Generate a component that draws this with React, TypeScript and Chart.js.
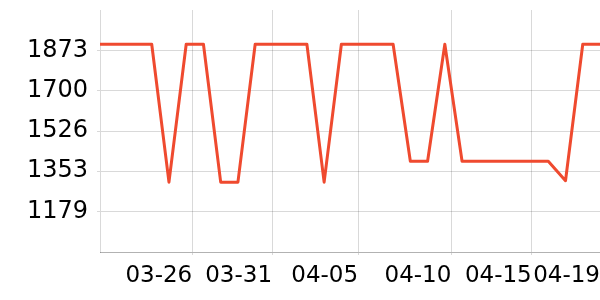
import React, { useEffect, useRef } from 'react';
import { Chart, registerables } from 'chart.js';

Chart.register(...registerables);

// Daily price series (30 points)
const prices = [
  1899, 1899, 1899, 1899, 1306, 1899, 1899, 1306, 1306, 1899,
  1899, 1899, 1899, 1306, 1899, 1899, 1899, 1899, 1396, 1396,
  1899, 1396, 1396, 1396, 1396, 1396, 1396, 1312, 1899, 1899,
];
// x tick positions (in point-index units) and their labels
const xTickPositions = [5.35, 9.98, 14.97, 20.38, 25.04, 29];
const xTickLabels = ['03-26', '03-31', '04-05', '04-10', '04-15', '04-19'];
// y ticks and range
const yTicks = [1179, 1353, 1526, 1700, 1873];
const yMin = 1005.5;
const yMax = 2046.5;

const LINE_COLOR = '#ef4a2f';
const GRID = 'rgba(0,0,0,0.15)';

export default function App() {
  const ref = useRef<HTMLCanvasElement | null>(null);

  useEffect(() => {
    document.body.style.margin = '0';
    const canvas = ref.current;
    if (!canvas) return;
    const chart = new Chart(canvas, {
      type: 'line',
      data: {
        datasets: [
          {
            data: prices.map((v, i) => ({ x: i, y: v })),
            borderColor: LINE_COLOR,
            backgroundColor: LINE_COLOR,
            borderWidth: 3,
            borderJoinStyle: 'round',
            pointRadius: 0,
            tension: 0,
            fill: false,
          },
        ],
      },
      options: {
        animation: false,
        responsive: false,
        layout: { padding: { top: 10, right: 0, left: 0, bottom: 0 } },
        plugins: { legend: { display: false }, tooltip: { enabled: false } },
        scales: {
          x: {
            type: 'linear',
            min: 0,
            max: prices.length - 1,
            afterBuildTicks: (scale: any) => {
              scale.ticks = xTickPositions.map((v) => ({ value: v }));
            },
            afterFit: (scale: any) => {
              scale.height = 48;
              scale.paddingLeft = 0;
              scale.paddingRight = 0;
            },
            grid: { color: GRID, tickLength: 3 },
            border: { color: 'rgba(0,0,0,0.3)' },
            ticks: {
              autoSkip: false,
              maxRotation: 0,
              minRotation: 0,
              align: 'end',
              padding: 7,
              color: '#000',
              font: { family: 'DejaVu Sans', size: 23 },
              callback: (_v: any, i: number) => xTickLabels[i],
            },
          },
          y: {
            type: 'linear',
            min: yMin,
            max: yMax,
            afterBuildTicks: (scale: any) => {
              scale.ticks = yTicks.map((v) => ({ value: v }));
            },
            afterFit: (scale: any) => {
              scale.width = 100;
              scale.paddingTop = 0;
              scale.paddingBottom = 0;
            },
            grid: { color: GRID, tickLength: 3 },
            border: { color: GRID },
            ticks: {
              padding: 9,
              color: '#000',
              font: { family: 'DejaVu Sans', size: 24 },
              callback: (v: any) => String(v),
            },
          },
        },
      },
    });
    return () => chart.destroy();
  }, []);

  return (
    <div style={{ width: 600, height: 300 }}>
      <canvas ref={ref} width={600} height={300} style={{ display: 'block' }} />
    </div>
  );
}
